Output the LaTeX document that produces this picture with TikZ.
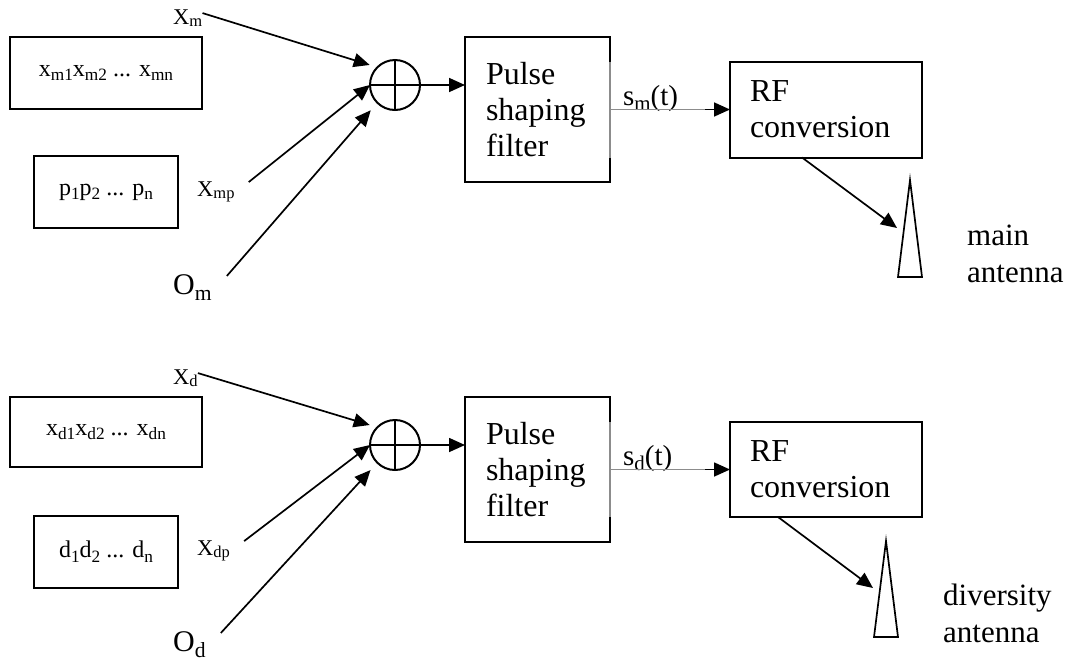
\documentclass[tikz,border=0pt]{standalone}
\usepackage{fontspec}
\setmainfont{Liberation Serif}
\usetikzlibrary{arrows.meta}
\newcommand{\lo}[1]{\raisebox{-0.2em}{\scalebox{0.72}{#1}}}
\newcommand{\lsub}[1]{\raisebox{-2.5pt}{\fontsize{16.5}{16.5}\selectfont #1}}
\begin{document}
\begin{tikzpicture}[x=1pt,y=-1pt,
  box/.style={draw,line width=2pt,inner sep=0pt,outer sep=0pt},
  arr/.style={line width=1.7pt,-{Triangle[length=16pt,width=14pt]}},
  gl/.style={line width=1.5pt,black!45},
  lbl/.style={inner sep=0pt,anchor=base west},
  big/.style={font=\fontsize{32}{36}\selectfont},
  small/.style={font=\fontsize{24}{26}\selectfont},
  xlab/.style={lbl,font=\fontsize{22.5}{24}\selectfont},
  olab/.style={lbl,font=\fontsize{30}{32}\selectfont},
  slab/.style={lbl,font=\fontsize{29}{31}\selectfont},
  sumc/.style={draw,circle,line width=2pt,minimum size=50pt,inner sep=0pt,outer sep=0pt},
  ant/.style={draw,line width=1.7pt,line join=miter},
  txt/.style={lbl,align=left,font=\fontsize{31}{37}\selectfont}
]
\useasboundingbox (0,0) rectangle (1070,662);

% ---------- upper (main) branch ----------
\node[box,small,minimum width=192pt,minimum height=72pt] (bx1) at (106,73) {x\lo{m1}x\lo{m2} ... x\lo{mn}};
\node[box,small,minimum width=144pt,minimum height=72pt] (bp1) at (106,192) {p\lo{1}p\lo{2} ... p\lo{n}};
\node[xlab] (lxm) at (173,24) {X\lsub{m}};
\node[xlab] (lxmp) at (197,196) {X\lsub{mp}};
\node[olab] (lom) at (173,294) {O\lo{m}};
\node[sumc] (s1) at (395,85) {};
\draw[line width=2pt] (s1.north) -- (s1.south) (s1.west) -- (s1.east);
\node[box,big,minimum width=145pt,minimum height=145pt,text width=103pt,align=left] (f1) at (537.5,109.5) {Pulse\\shaping\\filter};
\node[box,big,minimum width=192pt,minimum height=96pt,text width=152pt,align=left] (r1) at (826,109.5) {RF\\conversion};
\draw[gl,line width=2.1pt] (f1.east |- r1.north) -- (f1.east |- r1.south);
\coordinate (c1) at (705,109.5);
\node[slab] (ls1) at (623,105) {s\lo{m}(t)};
\coordinate (a1t) at (910,180);
\coordinate (a1l) at (898,277);
\coordinate (a1r) at (922,277);
\coordinate (a1in) at (897,228);
\node[txt] (tm) at (967,282) {main\\antenna};

\draw[arr,shorten >=8pt] ([yshift=-4pt]lxm.north east) -- (s1.135);
\draw[arr] ([xshift=14pt,yshift=-1pt]lxmp.north east) -- (s1.west);
\draw[arr,shorten >=10pt] ([xshift=15pt,yshift=-2pt]lom.north east) -- (s1.225);
\draw[arr] (s1.east) -- (s1.east -| f1.west);
\draw[gl] (f1.east) -- (c1);
\draw[arr] (c1) -- (r1.west);
\draw[arr] ([xshift=-24pt]r1.south) -- (a1in);
\draw[ant] (a1t) -- (a1l) -- (a1r) -- cycle;

% ---------- lower (diversity) branch ----------
\node[box,small,minimum width=192pt,minimum height=70pt] (bx2) at (106,432) {x\lo{d1}x\lo{d2} ... x\lo{dn}};
\node[box,small,minimum width=144pt,minimum height=72pt] (bp2) at (106,552) {d\lo{1}d\lo{2} ... d\lo{n}};
\node[xlab] (lxd) at (173,384) {X\lsub{d}};
\node[xlab] (lxdp) at (197,555) {X\lsub{dp}};
\node[olab] (lod) at (173,651) {O\lo{d}};
\node[sumc] (s2) at (395,445) {};
\draw[line width=2pt] (s2.north) -- (s2.south) (s2.west) -- (s2.east);
\node[box,big,minimum width=145pt,minimum height=145pt,text width=103pt,align=left] (f2) at (537.5,469.5) {Pulse\\shaping\\filter};
\node[box,big,minimum width=192pt,minimum height=95pt,text width=152pt,align=left] (r2) at (826,469.5) {RF\\conversion};
\draw[gl,line width=2.1pt] (f2.east |- r2.north) -- (f2.east |- r2.south);
\coordinate (c2) at (705,469.5);
\node[slab] (ls2) at (623,465) {s\lo{d}(t)};
\coordinate (a2t) at (886,541);
\coordinate (a2l) at (874,637);
\coordinate (a2r) at (898,637);
\coordinate (a2in) at (873,588);
\node[txt] (td) at (943,642) {diversity\\antenna};

\draw[arr,shorten >=8pt] ([yshift=-4pt]lxd.north east) -- (s2.135);
\draw[arr] ([xshift=14pt,yshift=-1pt]lxdp.north east) -- (s2.west);
\draw[arr,shorten >=10pt] ([xshift=15pt,yshift=-2pt]lod.north east) -- (s2.225);
\draw[arr] (s2.east) -- (s2.east -| f2.west);
\draw[gl] (f2.east) -- (c2);
\draw[arr] (c2) -- (r2.west);
\draw[arr] ([xshift=-48pt]r2.south) -- (a2in);
\draw[ant] (a2t) -- (a2l) -- (a2r) -- cycle;
\end{tikzpicture}
\end{document}
